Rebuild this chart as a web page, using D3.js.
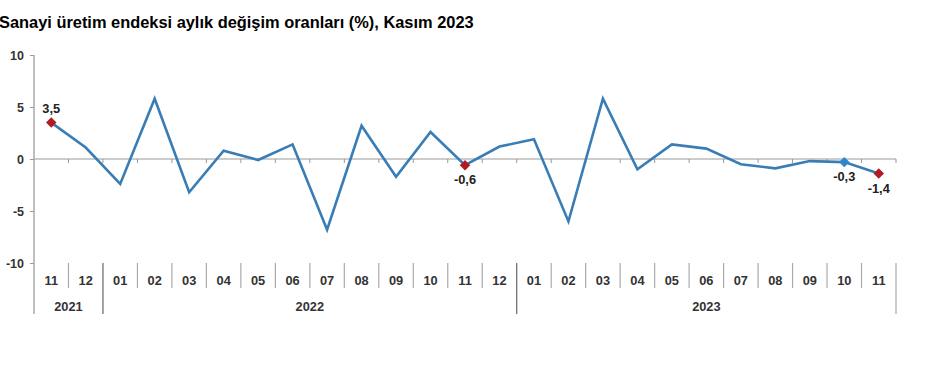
<!DOCTYPE html>
<html><head><meta charset="utf-8">
<script src="https://cdn.jsdelivr.net/npm/d3@7"></script>
<style>body{margin:0;background:#fff;}svg{display:block;}</style>
</head><body>
<script>
const title = "Sanayi üretim endeksi aylık değişim oranları (%), Kasım 2023";
const months = ["11","12","01","02","03","04","05","06","07","08","09","10","11","12","01","02","03","04","05","06","07","08","09","10","11"];
const years = ["2021","2021","2022","2022","2022","2022","2022","2022","2022","2022","2022","2022","2022","2022","2023","2023","2023","2023","2023","2023","2023","2023","2023","2023","2023"];
const values = [3.5,1.1,-2.4,5.8,-3.2,0.8,-0.1,1.4,-6.8,3.2,-1.7,2.6,-0.6,1.2,1.9,-6.0,5.8,-1.0,1.4,1.0,-0.5,-0.9,-0.2,-0.3,-1.4];
const yTicks = [10,5,0,-5,-10];
const labelled = [{i:0,text:"3,5",pos:"above",color:"#b01c22"},{i:12,text:"-0,6",pos:"below",color:"#b01c22"},{i:23,text:"-0,3",pos:"below",color:"#2f86c8"},{i:24,text:"-1,4",pos:"below",color:"#b01c22"}];

const W=933,H=367;
const svg=d3.select("body").append("svg").attr("width",W).attr("height",H);
const x=d3.scaleBand().domain(d3.range(values.length)).range([34,896]);
const y=d3.scaleLinear().domain([-10,10]).range([263,55]);
const font="Liberation Sans, Arial, sans-serif";

svg.append("text").attr("x",-1).attr("y",28).attr("font-family",font).attr("font-weight","bold").attr("font-size",16.4).attr("fill","#000").text(title);

// y axis
const yAxis=d3.axisLeft(y).tickValues(yTicks).tickSize(4).tickPadding(6).tickFormat(d=>d);
const gy=svg.append("g").attr("transform","translate(34,0)").call(yAxis);
gy.select(".domain").remove();
gy.selectAll(".tick line").attr("stroke","#999");
gy.selectAll(".tick text").attr("font-family",font).attr("font-weight","bold").attr("font-size",12.5).attr("fill","#333");
svg.append("line").attr("x1",34).attr("x2",34).attr("y1",55).attr("y2",314).attr("stroke","#aaa").attr("stroke-width",1.5);

// zero line
svg.append("line").attr("x1",34).attr("x2",896).attr("y1",y(0)).attr("y2",y(0)).attr("stroke","#999").attr("stroke-width",1.2);
const bounds=d3.range(1,values.length+1).map(i=>i<values.length?x(i):896);
svg.selectAll(".zt").data(bounds).join("line").attr("x1",d=>d).attr("x2",d=>d).attr("y1",y(0)).attr("y2",y(0)+4).attr("stroke","#999");

// category separators
svg.selectAll(".sep").data(bounds).join("line")
  .attr("x1",d=>d).attr("x2",d=>d)
  .attr("y1",263)
  .attr("y2",(d,j)=>{const i=j+1; return (i>=values.length||years[i]!==years[i-1])?314:288;})
  .attr("stroke",(d,j)=>{const i=j+1; return (i<values.length&&years[i]!==years[i-1])?"#666":"#aaa";})
  .attr("stroke-width",1.2);

// month labels
svg.selectAll(".ml").data(months).join("text")
  .attr("x",(d,i)=>x(i)+x.bandwidth()/2).attr("y",285).attr("text-anchor","middle")
  .attr("font-family",font).attr("font-weight","bold").attr("font-size",12.8).attr("fill","#333").text(d=>d);

// year labels
const yearGroups=d3.groups(years.map((yr,i)=>({yr,i})),d=>d.yr);
svg.selectAll(".yl").data(yearGroups).join("text")
  .attr("x",g=>{const a=g[1][0].i,b=g[1][g[1].length-1].i;return (x(a)+x(b)+x.bandwidth())/2;})
  .attr("y",311).attr("text-anchor","middle")
  .attr("font-family",font).attr("font-weight","bold").attr("font-size",12.8).attr("fill","#333").text(g=>g[0]);

// line
const line=d3.line().x((d,i)=>x(i)+x.bandwidth()/2).y(d=>y(d));
svg.append("path").datum(values).attr("d",line).attr("fill","none").attr("stroke","#3a7db5").attr("stroke-width",2.6).attr("stroke-linejoin","miter");

// markers
svg.selectAll(".mk").data(labelled).join("path")
  .attr("d",d3.symbol().type(d3.symbolSquare).size(55))
  .attr("transform",d=>`translate(${x(d.i)+x.bandwidth()/2},${y(values[d.i])}) rotate(45)`)
  .attr("fill",d=>d.color);
svg.selectAll(".lb").data(labelled).join("text")
  .attr("x",d=>x(d.i)+x.bandwidth()/2)
  .attr("y",d=>d.pos==="above"?y(values[d.i])-10:y(values[d.i])+19)
  .attr("text-anchor","middle")
  .attr("font-family",font).attr("font-weight","bold").attr("font-size",12.8).attr("fill","#222").text(d=>d.text);
</script>
</body></html>
